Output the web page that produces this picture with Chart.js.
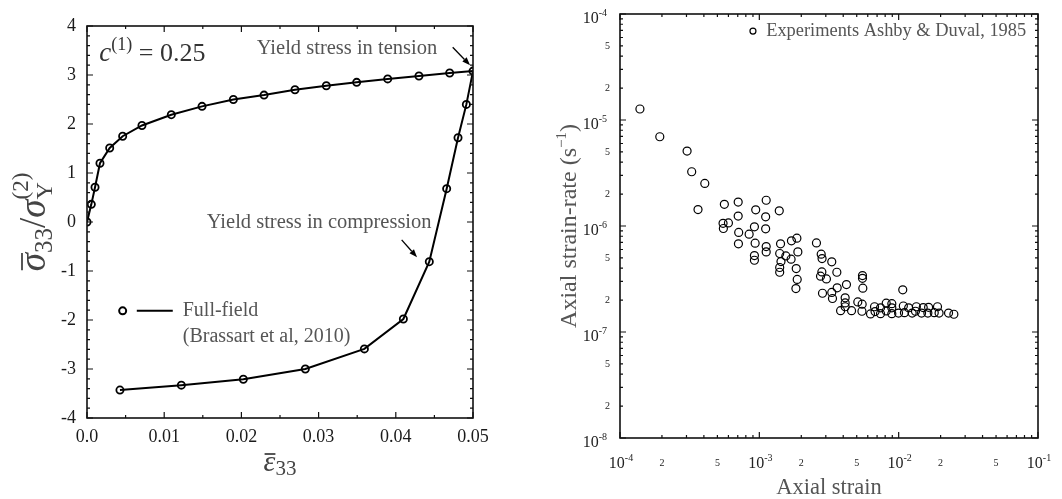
<!DOCTYPE html>
<html>
<head>
<meta charset="utf-8">
<script src="https://cdn.jsdelivr.net/npm/chart.js@4.4.0/dist/chart.umd.min.js"></script>
<style>
  html, body { margin: 0; padding: 0; background: #fff; }
  #wrap { position: relative; width: 1062px; height: 499px; }
  .panel { position: absolute; top: 0; width: 531px; height: 499px; }
  #left { left: 0; }
  #right { left: 531px; }
</style>
</head>
<body>
<div id="wrap">
  <div class="panel" id="left"><canvas id="ffChart" width="531" height="499"></canvas></div>
  <div class="panel" id="right"><canvas id="expChart" width="531" height="499"></canvas></div>
</div>
<script>
// Full-field curve (Brassart et al, 2010): loading up to 0.05 then unloading
const ffStrain = [0, 0.00056, 0.00104, 0.00168, 0.00294, 0.00462, 0.00712, 0.01092, 0.0149, 0.01896,
  0.02293, 0.02694, 0.0310, 0.03493, 0.03895, 0.043, 0.04698, 0.05,
  0.04914, 0.04806, 0.04659, 0.04434, 0.04098, 0.03593, 0.02828, 0.02025, 0.01222, 0.00427];
const ffStress = [0, 0.36, 0.71, 1.20, 1.51, 1.75, 1.97, 2.19, 2.36, 2.50,
  2.59, 2.70, 2.78, 2.85, 2.92, 2.98, 3.04, 3.08,
  2.40, 1.72, 0.68, -0.81, -1.98, -2.59, -3.00, -3.21, -3.33, -3.43];

// Experiments Ashby & Duval, 1985
const expStrain = [1.39e-4, 1.93e-4, 3.03e-4, 3.27e-4, 4.06e-4, 3.63e-4, 5.61e-4, 7.05e-4, 1.12e-3, 1.39e-3,
  9.42e-4, 7.05e-4, 1.11e-3, 5.49e-4, 6.00e-4, 5.52e-4, 7.11e-4, 8.45e-4, 9.22e-4, 1.11e-3,
  7.08e-4, 9.33e-4, 1.12e-3, 1.42e-3, 1.70e-3, 1.86e-3, 1.12e-3, 9.22e-4, 9.22e-4, 1.40e-3,
  1.55e-3, 1.69e-3, 1.89e-3, 1.43e-3, 1.40e-3, 1.40e-3, 1.84e-3, 1.87e-3, 1.83e-3, 2.57e-3,
  2.78e-3, 2.82e-3, 3.31e-3, 2.81e-3, 2.75e-3, 3.03e-3, 3.60e-3, 3.62e-3, 4.22e-3, 2.84e-3,
  3.31e-3, 3.35e-3, 4.13e-3, 4.13e-3, 4.13e-3, 3.83e-3, 4.59e-3, 5.09e-3, 5.47e-3, 5.50e-3,
  5.50e-3, 5.53e-3, 5.45e-3, 6.28e-3, 6.71e-3, 6.77e-3, 7.41e-3, 7.41e-3, 8.14e-3, 8.14e-3,
  8.93e-3, 8.93e-3, 8.93e-3, 9.98e-3, 1.07e-2, 1.08e-2, 1.10e-2, 1.18e-2, 1.25e-2, 1.34e-2,
  1.32e-2, 1.46e-2, 1.50e-2, 1.62e-2, 1.64e-2, 1.80e-2, 1.90e-2, 1.95e-2, 2.28e-2, 2.49e-2];
const expRate = [1.27e-5, 6.95e-6, 5.09e-6, 3.25e-6, 2.52e-6, 1.43e-6, 1.60e-6, 1.68e-6, 1.75e-6, 1.39e-6,
  1.42e-6, 1.24e-6, 1.22e-6, 1.06e-6, 1.07e-6, 9.47e-7, 8.69e-7, 8.37e-7, 9.82e-7, 9.40e-7,
  6.79e-7, 6.89e-7, 6.40e-7, 6.79e-7, 7.24e-7, 7.67e-7, 5.70e-7, 5.26e-7, 4.75e-7, 5.50e-7,
  5.22e-7, 4.86e-7, 5.70e-7, 4.62e-7, 4.06e-7, 3.66e-7, 3.97e-7, 3.13e-7, 2.57e-7, 6.93e-7,
  5.42e-7, 4.93e-7, 4.59e-7, 3.69e-7, 3.36e-7, 3.17e-7, 3.66e-7, 2.61e-7, 2.80e-7, 2.32e-7,
  2.36e-7, 2.07e-7, 2.10e-7, 1.88e-7, 1.73e-7, 1.59e-7, 1.59e-7, 1.92e-7, 1.83e-7, 3.41e-7,
  3.21e-7, 2.59e-7, 1.57e-7, 1.48e-7, 1.73e-7, 1.56e-7, 1.69e-7, 1.49e-7, 1.87e-7, 1.58e-7,
  1.85e-7, 1.69e-7, 1.49e-7, 1.51e-7, 2.50e-7, 1.76e-7, 1.52e-7, 1.69e-7, 1.51e-7, 1.73e-7,
  1.57e-7, 1.51e-7, 1.70e-7, 1.51e-7, 1.71e-7, 1.52e-7, 1.73e-7, 1.51e-7, 1.51e-7, 1.47e-7];

// Tick labels
const ffStrainTicks = [0, 0.01, 0.02, 0.03, 0.04, 0.05];
const ffStressTicks = [-4, -3, -2, -1, 0, 1, 2, 3, 4];
const strainDecades = [-4, -3, -2, -1];
const rateDecades = [-8, -7, -6, -5, -4];
const minorLabels = [2, 5];

const SERIF = "'Liberation Serif', 'DejaVu Serif', serif";
const GREY = '#555';

// draw a row of text pieces (sub/superscripts, overlines)
function drawRich(ctx, parts, x, y, align) {
  let w = 0, prevStart = 0;
  const starts = [], widths = [];
  parts.forEach(p => {
    ctx.font = p.font;
    const pw = ctx.measureText(p.text).width;
    const start = p.stack ? prevStart : w;
    starts.push(start);
    widths.push(pw);
    w = p.stack ? Math.max(w, start + pw) : start + pw;
    prevStart = start;
  });
  const x0 = align === 'center' ? x - w / 2 : (align === 'right' ? x - w : x);
  ctx.textBaseline = 'alphabetic';
  ctx.textAlign = 'left';
  parts.forEach((p, i) => {
    ctx.font = p.font;
    ctx.fillText(p.text, x0 + starts[i], y + (p.dy || 0));
    if (p.bar) {
      ctx.save();
      ctx.lineWidth = 1.8;
      ctx.strokeStyle = ctx.fillStyle;
      ctx.beginPath();
      ctx.moveTo(x0 + starts[i] + p.bar[0], y + p.bar[2]);
      ctx.lineTo(x0 + starts[i] + widths[i] + p.bar[1], y + p.bar[2]);
      ctx.stroke();
      ctx.restore();
    }
  });
}

function drawArrow(ctx, x1, y1, x2, y2) {
  const a = Math.atan2(y2 - y1, x2 - x1);
  const hl = 8, hw = 3;
  ctx.save();
  ctx.strokeStyle = '#000';
  ctx.fillStyle = '#000';
  ctx.lineWidth = 1.3;
  ctx.beginPath();
  ctx.moveTo(x1, y1);
  ctx.lineTo(x2 - hl * Math.cos(a), y2 - hl * Math.sin(a));
  ctx.stroke();
  ctx.beginPath();
  ctx.moveTo(x2, y2);
  ctx.lineTo(x2 - hl * Math.cos(a) + hw * Math.sin(a), y2 - hl * Math.sin(a) - hw * Math.cos(a));
  ctx.lineTo(x2 - hl * Math.cos(a) - hw * Math.sin(a), y2 - hl * Math.sin(a) + hw * Math.cos(a));
  ctx.closePath();
  ctx.fill();
  ctx.restore();
}

// inward ticks on all four sides + frame
function drawFrame(chart, xTicks, yTicks) {
  const {ctx, chartArea: a, scales: {x, y}} = chart;
  ctx.save();
  ctx.strokeStyle = '#111';
  ctx.lineWidth = 1.2;
  xTicks.forEach(([v, len]) => {
    const px = x.getPixelForValue(v);
    ctx.beginPath();
    ctx.moveTo(px, a.bottom); ctx.lineTo(px, a.bottom - len);
    ctx.moveTo(px, a.top); ctx.lineTo(px, a.top + len);
    ctx.stroke();
  });
  yTicks.forEach(([v, len]) => {
    const py = y.getPixelForValue(v);
    ctx.beginPath();
    ctx.moveTo(a.left, py); ctx.lineTo(a.left + len, py);
    ctx.moveTo(a.right, py); ctx.lineTo(a.right - len, py);
    ctx.stroke();
  });
  ctx.lineWidth = 1.6;
  ctx.strokeRect(a.left, a.top, a.right - a.left, a.bottom - a.top);
  ctx.restore();
}

// ---------- left panel ----------
const ffDeco = {
  id: 'ffDeco',
  afterDraw(chart) {
    const {ctx, scales: {x, y}} = chart;
    const xT = [], yT = [];
    for (let i = 0; i <= 10; i++) xT.push([i * 0.005, i % 2 === 0 ? 6 : 3]);
    for (let i = -20; i <= 20; i++) yT.push([i / 5, i % 5 === 0 ? 6 : 3]);
    drawFrame(chart, xT, yT);

    ctx.save();
    ctx.fillStyle = '#333';
    // c^(1) = 0.25
    drawRich(ctx, [
      {text: 'c', font: `italic 27px ${SERIF}`},
      {text: '(1)', font: `18px ${SERIF}`, dy: -11},
      {text: ' = 0.25', font: `26px ${SERIF}`}
    ], x.getPixelForValue(0.0016), y.getPixelForValue(3.28), 'left');

    ctx.fillStyle = GREY;
    ctx.font = `20.5px ${SERIF}`;
    ctx.textBaseline = 'middle';
    ctx.textAlign = 'left';
    ctx.fillText('Yield stress in tension', x.getPixelForValue(0.02198), y.getPixelForValue(3.546));
    ctx.fillText('Yield stress in compression', x.getPixelForValue(0.0155), y.getPixelForValue(-0.02));
    drawArrow(ctx, x.getPixelForValue(0.04737), y.getPixelForValue(3.566), x.getPixelForValue(0.04962), y.getPixelForValue(3.2));
    drawArrow(ctx, x.getPixelForValue(0.04076), y.getPixelForValue(-0.366), x.getPixelForValue(0.04275), y.getPixelForValue(-0.72));

    // legend
    const ly = y.getPixelForValue(-1.813);
    ctx.strokeStyle = '#000';
    ctx.lineWidth = 2;
    ctx.beginPath();
    ctx.arc(x.getPixelForValue(0.00462), ly, 3.5, 0, Math.PI * 2);
    ctx.stroke();
    ctx.beginPath();
    ctx.moveTo(x.getPixelForValue(0.00645), ly);
    ctx.lineTo(x.getPixelForValue(0.01111), ly);
    ctx.stroke();
    ctx.fillStyle = GREY;
    ctx.font = `20px ${SERIF}`;
    ctx.textBaseline = 'middle';
    ctx.fillText('Full-field', x.getPixelForValue(0.0124), ly);
    ctx.fillText('(Brassart et al, 2010)', x.getPixelForValue(0.0124), y.getPixelForValue(-2.343));

    // axis titles
    ctx.fillStyle = '#444';
    drawRich(ctx, [
      {text: 'ε', font: `italic 30px ${SERIF}`, bar: [1, 0, -17]},
      {text: '33', font: `21px ${SERIF}`, dy: 4}
    ], (x.left + x.right) / 2, 471, 'center');

    ctx.translate(45, (y.top + y.bottom) / 2);
    ctx.rotate(-Math.PI / 2);
    drawRich(ctx, [
      {text: 'σ', font: `italic 37px ${SERIF}`, bar: [1, 0, -23]},
      {text: '33', font: `25px ${SERIF}`, dy: 7},
      {text: '/', font: `37px ${SERIF}`},
      {text: 'σ', font: `italic 37px ${SERIF}`},
      {text: 'Y', font: `24px ${SERIF}`, dy: 7},
      {text: '(2)', font: `23px ${SERIF}`, dy: -17, stack: true}
    ], 0, 0, 'center');
    ctx.restore();
  }
};

new Chart(document.getElementById('ffChart'), {
  type: 'scatter',
  data: {
    datasets: [{
      label: 'Full-field (Brassart et al, 2010)',
      data: ffStrain.map((v, i) => ({x: v, y: ffStress[i]})),
      showLine: true,
      borderColor: '#000',
      borderWidth: 2,
      pointRadius: 3.6,
      pointBorderWidth: 1.8,
      pointBackgroundColor: 'rgba(0,0,0,0)',
      pointBorderColor: '#000',
      tension: 0
    }]
  },
  options: {
    responsive: false,
    animation: false,
    layout: {padding: {left: 0, top: 26, right: 58, bottom: 0}},
    plugins: {legend: {display: false}, tooltip: {enabled: false}},
    scales: {
      x: {
        type: 'linear', min: 0, max: 0.05,
        afterBuildTicks: s => { s.ticks = ffStrainTicks.map(v => ({value: v})); },
        afterFit: s => { s.height = 81; },
        grid: {display: false, drawTicks: false},
        border: {display: false},
        ticks: {
          padding: 8, color: '#1a1a1a', font: {family: SERIF, size: 18},
          callback: v => v === 0 ? '0.0' : v.toFixed(2)
        }
      },
      y: {
        type: 'linear', min: -4, max: 4,
        afterBuildTicks: s => { s.ticks = ffStressTicks.map(v => ({value: v})); },
        afterFit: s => { s.width = 87; },
        grid: {display: false, drawTicks: false},
        border: {display: false},
        ticks: {padding: 11, color: '#1a1a1a', font: {family: SERIF, size: 18}, callback: v => String(v)}
      }
    }
  },
  plugins: [ffDeco]
});

// ---------- right panel ----------
const expDeco = {
  id: 'expDeco',
  afterDraw(chart) {
    const {ctx, chartArea: a, scales: {x, y}} = chart;
    const xT = [], yT = [];
    strainDecades.forEach(d => {
      xT.push([Math.pow(10, d), 6]);
      if (d < -1) for (let m = 2; m <= 9; m++) xT.push([m * Math.pow(10, d), 3]);
    });
    rateDecades.forEach(d => {
      yT.push([Math.pow(10, d), 6]);
      if (d < -4) for (let m = 2; m <= 9; m++) yT.push([m * Math.pow(10, d), 3]);
    });
    drawFrame(chart, xT, yT);

    ctx.save();
    ctx.fillStyle = '#222';
    // x tick labels
    strainDecades.forEach(d => {
      drawRich(ctx, [
        {text: '10', font: `16px ${SERIF}`},
        {text: String(d), font: `10px ${SERIF}`, dy: -7}
      ], x.getPixelForValue(Math.pow(10, d)) + 1, a.bottom + 30, 'center');
      if (d < -1) minorLabels.forEach(m => {
        ctx.font = `10px ${SERIF}`;
        ctx.textAlign = 'center';
        ctx.textBaseline = 'middle';
        ctx.fillText(String(m), x.getPixelForValue(m * Math.pow(10, d)), a.bottom + 25);
      });
    });
    // y tick labels
    rateDecades.forEach(d => {
      drawRich(ctx, [
        {text: '10', font: `16px ${SERIF}`},
        {text: String(d), font: `10px ${SERIF}`, dy: -7}
      ], a.left - 13, y.getPixelForValue(Math.pow(10, d)) + 9, 'right');
      if (d < -4) minorLabels.forEach(m => {
        ctx.font = `10px ${SERIF}`;
        ctx.textAlign = 'right';
        ctx.textBaseline = 'middle';
        ctx.fillText(String(m), a.left - 10, y.getPixelForValue(m * Math.pow(10, d)));
      });
    });

    // legend
    ctx.strokeStyle = '#000';
    ctx.lineWidth = 1.2;
    ctx.beginPath();
    ctx.arc(x.getPixelForValue(9.0e-4), y.getPixelForValue(6.9e-5), 3, 0, Math.PI * 2);
    ctx.stroke();
    ctx.fillStyle = GREY;
    ctx.font = `18.4px ${SERIF}`;
    ctx.textAlign = 'left';
    ctx.textBaseline = 'middle';
    ctx.fillText('Experiments Ashby & Duval, 1985', x.getPixelForValue(1.12e-3), y.getPixelForValue(6.9e-5));

    // axis titles
    ctx.fillStyle = GREY;
    ctx.font = `22.5px ${SERIF}`;
    ctx.textAlign = 'center';
    ctx.textBaseline = 'alphabetic';
    ctx.fillText('Axial strain', (a.left + a.right) / 2, 494);
    ctx.translate(45, (a.top + a.bottom) / 2);
    ctx.rotate(-Math.PI / 2);
    drawRich(ctx, [
      {text: 'Axial strain-rate (s', font: `24px ${SERIF}`},
      {text: '−1', font: `15px ${SERIF}`, dy: -10},
      {text: ')', font: `24px ${SERIF}`}
    ], 0, 0, 'center');
    ctx.restore();
  }
};

new Chart(document.getElementById('expChart'), {
  type: 'scatter',
  data: {
    datasets: [{
      label: 'Experiments Ashby & Duval, 1985',
      data: expStrain.map((v, i) => ({x: v, y: expRate[i]})),
      pointRadius: 4,
      pointBorderWidth: 1.2,
      pointBackgroundColor: 'rgba(0,0,0,0)',
      pointBorderColor: '#000'
    }]
  },
  options: {
    responsive: false,
    animation: false,
    layout: {padding: {left: 89, top: 14, right: 24, bottom: 61}},
    plugins: {legend: {display: false}, tooltip: {enabled: false}},
    scales: {
      x: {type: 'logarithmic', min: 1e-4, max: 1e-1, display: false},
      y: {type: 'logarithmic', min: 1e-8, max: 1e-4, display: false}
    }
  },
  plugins: [expDeco]
});
</script>
</body>
</html>
